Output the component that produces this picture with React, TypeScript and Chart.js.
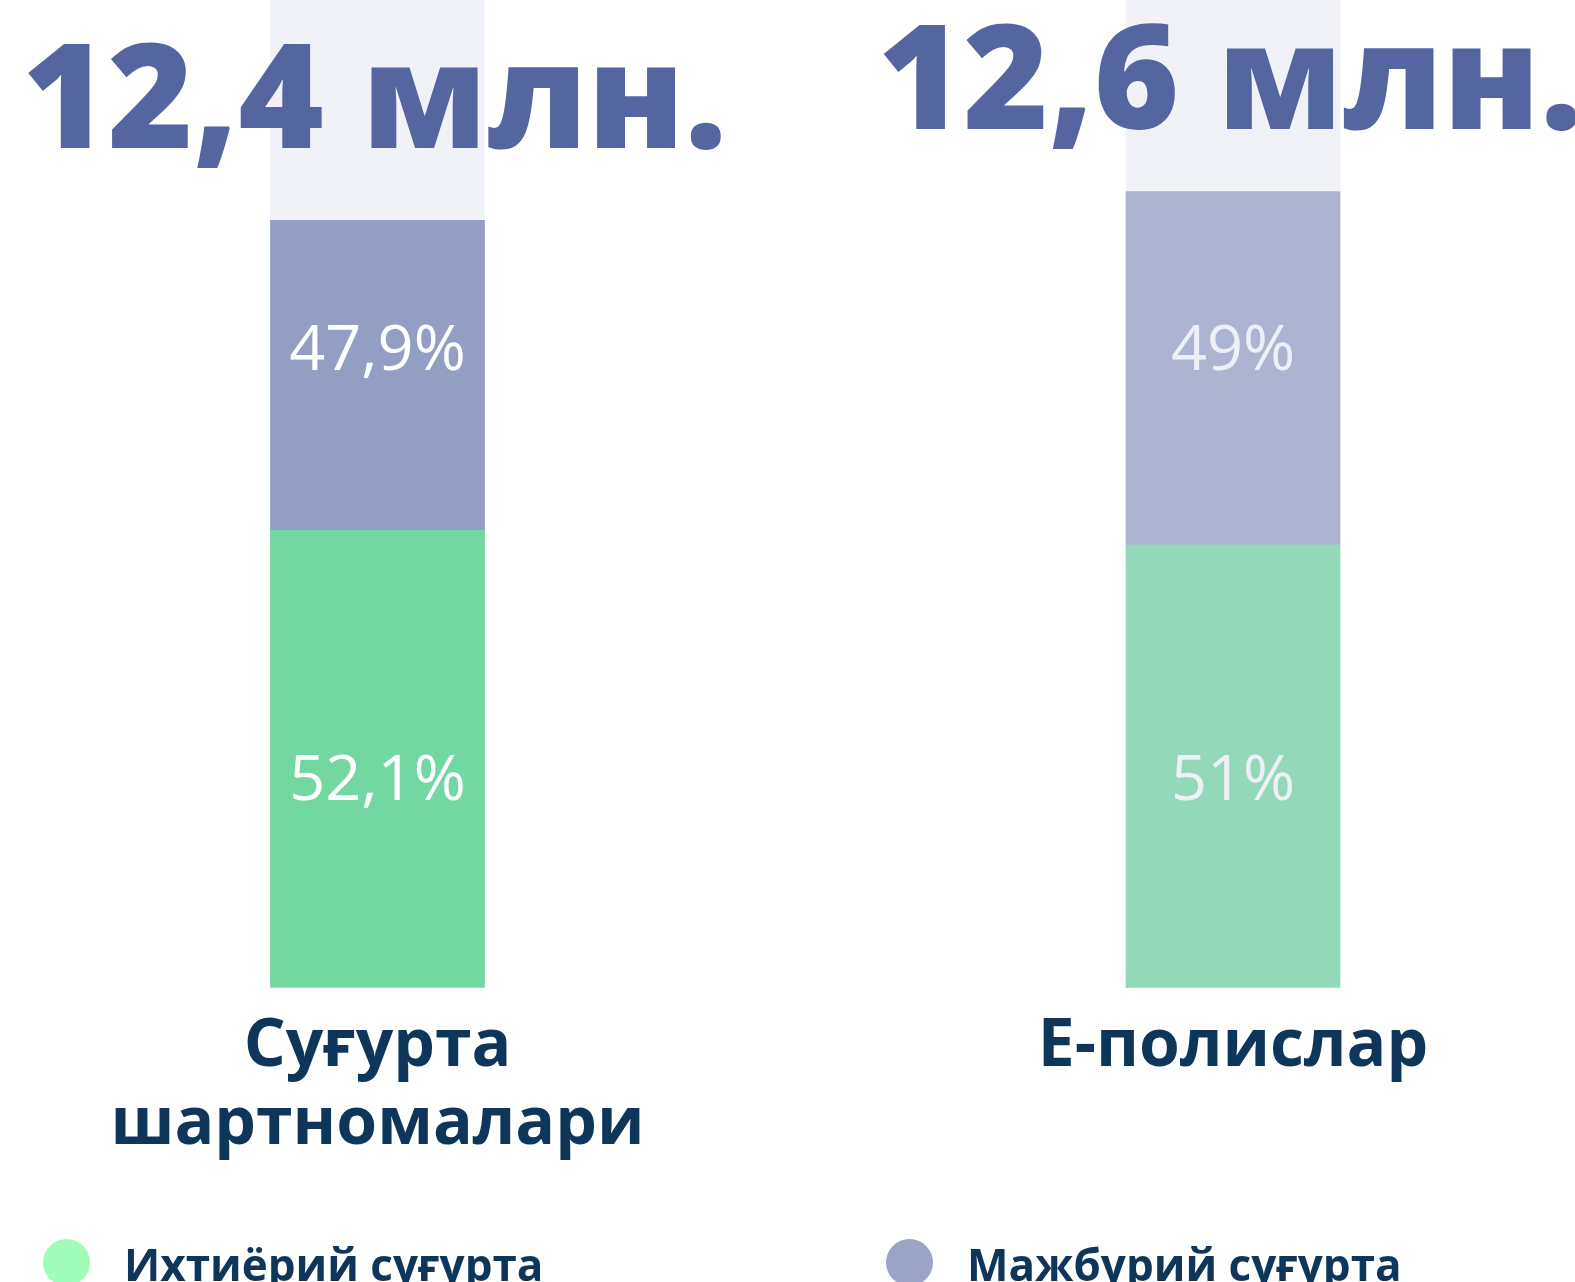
import React, { useEffect, useRef } from "react";
import { Chart, registerables } from "chart.js";

Chart.register(...registerables);

// ---- data ----
const categories: string[][] = [["Суғурта", "шартномалари"], ["Е-полислар"]];
const totalsMln: number[] = [12.4, 12.6];
const seriesNames: string[] = ["Ихтиёрий суғурта", "Мажбурий суғурта"];
// segment heights (share of the full axis, 0..100)
const voluntaryValues: number[] = [46.3, 44.8];
const mandatoryValues: number[] = [31.4, 35.8];
const backgroundValues: number[] = [100, 100];
const voluntaryLabels: string[] = ["52,1%", "51%"];
const mandatoryLabels: string[] = ["47,9%", "49%"];

// ---- styles ----
const voluntaryColors = ["#72D7A0", "#93D9B9"];
const mandatoryColors = ["#949EC4", "#ADB4D2"];
const backgroundColor = "#F1F2F8";
const percentLabelColors = ["#FFFFFF", "#EEF0F7"];
const legendColors = ["#A0FCB9", "#9CA3C8"];
const legendLeft = [43, 886];
const titleGap = [72, 63];
const titleShiftX = -3;
const titleColor = "#5565A0";
const navy = "#0E365A";
const FONT = "'Open Sans', 'Noto Sans', sans-serif";

const overlayPlugin = {
  id: "overlayText",
  afterDatasetsDraw(chart: any) {
    const { ctx, chartArea } = chart;
    const volMeta = chart.getDatasetMeta(0);
    const manMeta = chart.getDatasetMeta(1);
    const h = chartArea.bottom - chartArea.top;
    ctx.save();
    ctx.textAlign = "center";
    ctx.textBaseline = "alphabetic";
    // percent labels
    ctx.font = `400 63px ${FONT}`;
    for (let i = 0; i < categories.length; i++) {
      const x = volMeta.data[i].x;
      ctx.fillStyle = percentLabelColors[i];
      ctx.fillText(mandatoryLabels[i], x, chartArea.top + h * 0.3745);
      ctx.fillText(voluntaryLabels[i], x, chartArea.top + h * 0.8097);
    }
    // big totals above each stack
    ctx.font = `800 146px ${FONT}`;
    ctx.fillStyle = titleColor;
    for (let i = 0; i < categories.length; i++) {
      const bar = manMeta.data[i];
      const txt = totalsMln[i].toFixed(1).replace(".", ",") + " млн.";
      ctx.fillText(txt, bar.x + titleShiftX, bar.y - titleGap[i]);
    }
    ctx.restore();
  },
};

export default function App() {
  const canvasRef = useRef<HTMLCanvasElement | null>(null);

  useEffect(() => {
    let chart: Chart | null = null;
    let cancelled = false;
    const make = () => {
      if (cancelled || !canvasRef.current) return;
      chart = new Chart(canvasRef.current, {
        type: "bar",
        data: {
          labels: categories as any,
          datasets: [
            {
              label: seriesNames[0],
              data: voluntaryValues,
              backgroundColor: voluntaryColors,
              stack: "main",
              order: 1,
              barThickness: 214,
              clip: false as any,
            },
            {
              label: seriesNames[1],
              data: mandatoryValues,
              backgroundColor: mandatoryColors,
              stack: "main",
              order: 1,
              barThickness: 214,
              clip: false as any,
            },
            {
              label: "bg",
              data: backgroundValues,
              backgroundColor: backgroundColor,
              stack: "bg",
              grouped: false,
              order: 10,
              barThickness: 214,
              clip: false as any,
            } as any,
          ],
        },
        options: {
          responsive: false,
          maintainAspectRatio: false,
          animation: false,
          events: [],
          layout: { padding: { left: 377.5, right: 342, top: 0, bottom: 0 } },
          plugins: {
            legend: { display: false },
            tooltip: { enabled: false },
          },
          scales: {
            x: {
              offset: false,
              grid: { display: false },
              border: { display: false },
              ticks: {
                color: navy,
                font: { family: FONT, size: 66, weight: "bold", lineHeight: 1.18 },
                padding: 13,
                maxRotation: 0,
                autoSkip: false,
              },
              afterFit: (scale: any) => {
                scale.height = 294.5;
              },
            },
            y: {
              display: false,
              stacked: true,
              min: 0,
              max: 100,
            },
          },
        },
        plugins: [overlayPlugin],
      });
    };
    const loads = [
      `400 63px 'Open Sans'`,
      `700 66px 'Open Sans'`,
      `800 146px 'Open Sans'`,
    ].map((f) => (document as any).fonts.load(f).catch(() => null));
    Promise.all(loads).then(make, make);
    return () => {
      cancelled = true;
      if (chart) chart.destroy();
    };
  }, []);

  return (
    <div
      style={{
        position: "fixed",
        left: 0,
        top: 0,
        width: 1575,
        height: 1282,
        overflow: "hidden",
        background: "#FFFFFF",
      }}
    >
      <canvas ref={canvasRef} width={1575} height={1282} style={{ display: "block" }} />
      {seriesNames.map((name, i) => (
        <div
          key={name}
          style={{
            position: "absolute",
            left: legendLeft[i],
            top: 1239,
            display: "flex",
            alignItems: "flex-start",
            whiteSpace: "nowrap",
          }}
        >
          <span
            style={{
              width: 47,
              height: 47,
              borderRadius: "50%",
              background: legendColors[i],
              display: "inline-block",
              marginRight: 34,
              flex: "none",
            }}
          />
          <span
            style={{
              fontFamily: FONT,
              fontWeight: 700,
              fontSize: 44,
              lineHeight: "50px",
              color: navy,
            }}
          >
            {name}
          </span>
        </div>
      ))}
    </div>
  );
}
